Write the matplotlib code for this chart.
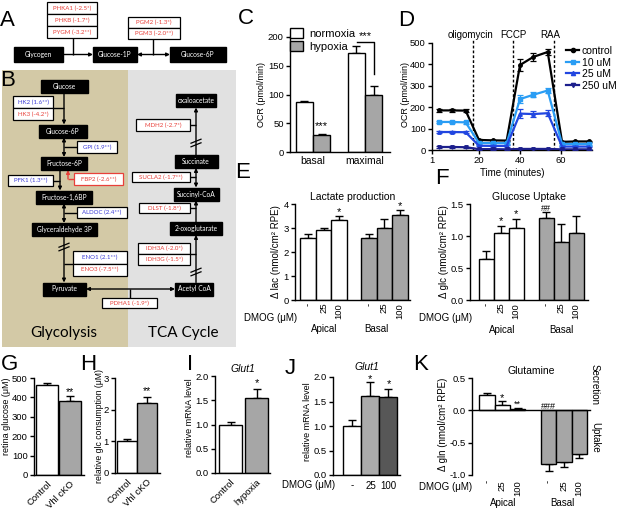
import matplotlib

matplotlib.use("Agg")
import matplotlib.pyplot as plt
from matplotlib.patches import Rectangle, Patch
from matplotlib.lines import Line2D

W, H = 617, 509

# ---- C: oxygen consumption (pmol/min) ----
ocr_groups = ["basal", "maximal"]
ocr_normoxia = [87, 172]
ocr_normoxia_err = [2, 12]
ocr_hypoxia = [29, 100]
ocr_hypoxia_err = [3, 15]

# ---- D: mito stress trace ----
time_min = [0.5, 7, 13.5, 20, 27, 33.5, 40, 46.5, 53.5, 60.5, 67, 73.5]
trace_labels = ["control", "10 uM", "25 uM", "250 uM"]
ocr_control = [185, 185, 184, 47, 45, 44, 397, 435, 458, 38, 40, 40]
ocr_control_err = [8, 8, 8, 5, 4, 4, 30, 20, 15, 4, 4, 4]
ocr_10 = [131, 131, 129, 33, 32, 32, 238, 258, 278, 28, 28, 28]
ocr_10_err = [6, 6, 6, 4, 4, 4, 18, 12, 10, 4, 4, 4]
ocr_25 = [84, 84, 83, 20, 19, 19, 170, 168, 172, 16, 16, 16]
ocr_25_err = [5, 5, 5, 3, 3, 3, 22, 14, 15, 3, 3, 3]
ocr_250 = [14, 14, 13, 4, 4, 3, 5, 5, 5, 3, 3, 3]
ocr_250_err = [3, 3, 3, 2, 2, 2, 2, 2, 2, 2, 2, 2]
injections = ["oligomycin", "FCCP", "RAA"]
injection_times = [17, 36.7, 56.5]

# ---- E/F/K: DMOG series ----
dmog_doses = ["-", "25", "100"]
lac_apical = [2.60, 2.90, 3.32]
lac_apical_err = [0.15, 0.10, 0.18]
lac_basal = [2.58, 3.00, 3.55]
lac_basal_err = [0.18, 0.38, 0.20]
glc_apical = [0.64, 1.04, 1.12]
glc_apical_err = [0.13, 0.11, 0.15]
glc_basal = [1.28, 0.90, 1.05]
glc_basal_err = [0.09, 0.28, 0.26]
gln_apical = [0.24, 0.09, 0.015]
gln_apical_err = [0.03, 0.05, 0.025]
gln_basal = [-0.83, -0.80, -0.67]
gln_basal_err = [0.11, 0.08, 0.07]

# ---- G/H/I/J ----
vhl_groups = ["Control", "Vhl cKO"]
retina_glucose = [462, 383]
retina_glucose_err = [10, 22]
glc_consumption = [1.0, 2.2]
glc_consumption_err = [0.08, 0.2]
hyp_groups = ["Control", "hypoxia"]
glut1_hypoxia = [1.0, 1.55]
glut1_hypoxia_err = [0.06, 0.18]
glut1_dmog = [1.0, 1.62, 1.59]
glut1_dmog_err = [0.12, 0.27, 0.17]

FONT = "Liberation Sans"
DIAG = "Lato"
RED = "#e8403a"
BLUE = "#3b3bd6"
GRAY = "#a6a6a6"
TICK = 6.8
LAB = 6.5

plt.rcParams["font.family"] = FONT

fig = plt.figure(figsize=(W / 100, H / 100), dpi=100)
ov = fig.add_axes([0, 0, 1, 1])
ov.set_xlim(0, W)
ov.set_ylim(H, 0)
ov.axis("off")


def px_axes(x0, y0, x1, y1):
    return fig.add_axes([x0 / W, 1 - y1 / H, (x1 - x0) / W, (y1 - y0) / H])


def T(x, y, s, **kw):
    kw.setdefault("ha", "center")
    kw.setdefault("va", "center")
    fig.text(x / W, 1 - y / H, s, **kw)


def style(ax):
    for s in ["top", "right"]:
        ax.spines[s].set_visible(False)
    for s in ["left", "bottom"]:
        ax.spines[s].set_linewidth(1.0)
    ax.tick_params(length=3, width=1.0, labelsize=TICK, pad=1.5)
    ax.set_facecolor("none")


def draw_bars(ax, xs, vals, errs, colors, width):
    ax.bar(xs, vals, width=width, color=colors, edgecolor="black", linewidth=1.0, zorder=2)
    lo = [e if v < 0 else 0 for v, e in zip(vals, errs)]
    hi = [e if v >= 0 else 0 for v, e in zip(vals, errs)]
    ax.errorbar(xs, vals, yerr=[lo, hi], fmt="none", ecolor="black", elinewidth=1.0,
                capsize=3, capthick=1.0, zorder=1)


# ---------------- diagram helpers ----------------
def node(cx, cy, w, label, h=13):
    ov.add_patch(Rectangle((cx - w / 2, cy - h / 2), w, h, fc="black", ec="black", zorder=3))
    ov.text(cx, cy, label, color="white", fontsize=4.8, ha="center", va="center",
            zorder=4, family=DIAG)


def enzyme(x0, y0, x1, y1, label, color, ec="black"):
    ov.add_patch(Rectangle((x0, y0), x1 - x0, y1 - y0, fc="white", ec=ec, lw=0.9, zorder=3))
    ov.text((x0 + x1) / 2, (y0 + y1) / 2, label, color=color, fontsize=4.4, ha="center",
            va="center", zorder=4, family=DIAG)


def arrow(x0, y0, x1, y1, both=False, color="black"):
    ov.annotate("", xy=(x1, y1), xytext=(x0, y0),
                arrowprops=dict(arrowstyle="<|-|>" if both else "-|>", color=color, lw=1,
                                mutation_scale=5, shrinkA=0, shrinkB=0), zorder=2)


def seg(xs, ys, color="black"):
    ov.plot(xs, ys, color=color, lw=1, solid_capstyle="butt", zorder=2)


def brk(x, y):
    for d in (-1.8, 1.8):
        ov.plot([x - 5, x + 5], [y + d + 2, y + d - 2], color="black", lw=0.9, zorder=2)


# ---------------- panel A ----------------
node(38.5, 54.5, 49, "Glycogen", h=15)
node(115, 54.5, 44, "Glucose-1P", h=15)
node(198, 54.5, 56, "Glucose-6P", h=15)
arrow(63, 54.5, 93, 54.5)
seg([73, 73], [38, 54.5])
arrow(137, 54.5, 170, 54.5, both=True)
seg([153, 153], [39, 54.5])
enzyme(47, 2, 97, 14, "PHKA1 (-2.5*)", RED)
enzyme(47, 14, 97, 26, "PHKB (-1.7*)", RED)
enzyme(47, 26, 97, 38, "PYGM (-3.2**)", RED)
enzyme(128, 17, 180, 28, "PGM2 (-1.3*)", RED)
enzyme(128, 28, 180, 39, "PGM3 (-2.0**)", RED)

# ---------------- panel B ----------------
ov.add_patch(Rectangle((2, 70), 126, 277, fc="#d3c9a6", ec="none", zorder=0))
ov.add_patch(Rectangle((128, 70), 108, 277, fc="#e1e1e1", ec="none", zorder=0))
ov.text(64, 333, "Glycolysis", fontsize=11, family=DIAG, ha="center", va="center")
ov.text(183, 333, "TCA Cycle", fontsize=11, family=DIAG, ha="center", va="center")

# glycolysis column
node(64, 86, 47, "Glucose")
node(63, 131, 48, "Glucose-6P")
node(64, 163.5, 46, "Fructose-6P")
node(64, 197, 56, "Fructose-1,6BP")
node(64, 229.5, 65, "Glyceraldehyde 3P")
node(64, 289, 43, "Pyruvate")
arrow(64, 92, 64, 124.5)
arrow(64, 137.5, 64, 157, both=True)
arrow(60, 170, 60, 190.5)
seg([74, 68], [179, 179], color=RED)
arrow(68, 179, 68, 170, color=RED)
arrow(64, 203.5, 64, 223, both=True)
arrow(64, 236, 64, 282.5)
brk(64, 247)
seg([53, 64], [108, 108])
seg([77, 64], [147, 147])
seg([53, 60], [180.5, 180.5])
seg([77, 64], [212.5, 212.5])
seg([73, 64], [263.5, 263.5])
enzyme(13, 96, 53, 108, "HK2 (1.6**)", BLUE)
enzyme(13, 108, 53, 120, "HK3 (-4.2*)", RED)
enzyme(77, 141, 117, 153, "GPI (1.9**)", BLUE)
enzyme(8, 175, 53, 186, "PFK1 (1.3**)", BLUE)
enzyme(74, 173, 123, 185, "FBP2 (-2.6**)", RED, ec=RED)
enzyme(77, 207, 127, 218, "ALDOC (2.4**)", BLUE)
enzyme(73, 251, 127, 263.5, "ENO1 (2.1**)", BLUE)
enzyme(73, 263.5, 127, 276, "ENO3 (-7.5**)", RED)

# TCA column
cx = 196
node(cx, 100, 40, "oxaloacetate")
node(cx, 161.5, 43, "Succinate")
node(cx, 194, 45, "Succinyl-CoA")
node(cx, 228.5, 52, "2-oxoglutarate")
node(194, 289, 38, "Acetyl CoA")
arrow(cx, 155, cx, 107.5)
brk(cx, 143)
arrow(cx, 187.5, cx, 168, both=True)
arrow(cx, 222, cx, 200.5)
arrow(cx, 282.5, cx, 235)
brk(cx, 272)
arrow(86, 289, 175, 289, both=True)
seg([130, 130], [298, 289])
seg([190, cx], [125, 125])
seg([190, cx], [177, 177])
seg([190, cx], [208, 208])
seg([190, cx], [254, 254])
enzyme(136, 119, 190, 131, "MDH2 (-2.7*)", RED)
enzyme(132, 172, 190, 182, "SUCLA2 (-1.7**)", RED)
enzyme(139, 203, 190, 213, "DLST (-1.8*)", RED)
enzyme(138, 243, 190, 254, "IDH3A (-2.0*)", RED)
enzyme(138, 254, 190, 265, "IDH3G (-1.5*)", RED)
enzyme(102, 298, 157, 308, "PDHA1 (-1.9*)", RED)

# ---------------- panel C ----------------
ax = px_axes(290, 37, 390, 152)
style(ax)
gx = list(range(len(ocr_groups)))
bw = 0.33
draw_bars(ax, [g - bw / 2 for g in gx], ocr_normoxia, ocr_normoxia_err, "white", bw)
draw_bars(ax, [g + bw / 2 for g in gx], ocr_hypoxia, ocr_hypoxia_err, GRAY, bw)
ax.set_xlim(-0.44, 1.48)
ax.set_ylim(0, 200)
ax.set_yticks([0, 50, 100, 150, 200])
ax.set_xticks(gx)
ax.set_xticklabels(ocr_groups, fontsize=7.5)
ax.tick_params(axis="x", length=0, pad=3)
ax.text(bw / 2, ocr_hypoxia[0] + ocr_hypoxia_err[0] + 4, "***", ha="center", va="bottom", fontsize=8)
ax.plot([0.85, 1 + bw / 2, 1 + bw / 2], [192, 192, 135], color="black", lw=1, clip_on=False)
ax.text(1.0, 193, "***", ha="center", va="bottom", fontsize=8)
ax.legend(handles=[Patch(fc="white", ec="black", label="normoxia"),
                   Patch(fc=GRAY, ec="black", label="hypoxia")],
          loc="upper left", bbox_to_anchor=(0.0, 1.08), frameon=False, fontsize=8,
          handlelength=1.2, handleheight=1.0, handletextpad=0.5, labelspacing=0.25,
          borderaxespad=0, borderpad=0)
T(261, 95, "OCR (pmol/min)", rotation=90, fontsize=6.5)

# ---------------- panel D ----------------
ax = px_axes(432, 43, 592, 150)
style(ax)
trace_vals = [ocr_control, ocr_10, ocr_25, ocr_250]
trace_errs = [ocr_control_err, ocr_10_err, ocr_25_err, ocr_250_err]
colors = ["black", "#2a9df4", "#2146e0", "#1c1f8c"]
markers = ["o", "s", "^", "v"]
handles = []
for lab, v, e, c, m in zip(trace_labels, trace_vals, trace_errs, colors, markers):
    ax.errorbar(time_min, v, yerr=e, color=c, marker=m, markersize=2.5, lw=1.6,
                elinewidth=0.9, capsize=2, capthick=0.9, zorder=3)
    handles.append(Line2D([], [], color=c, marker=m, markersize=3, lw=1.6, label=lab))
for t in injection_times:
    ax.plot([t, t], [0, 515], ls=(0, (2, 1.5)), color="black", lw=1, clip_on=False, zorder=2)
ax.set_xlim(-2.9, 75.1)
ax.set_ylim(0, 500)
ax.set_yticks([0, 100, 200, 300, 400, 500])
ax.set_xticks([-2.9, 20, 40, 60])
ax.set_xticklabels(["1", "20", "40", "60"])
ax.set_xlabel("Time (minutes)", fontsize=7, labelpad=2)
T(405, 95, "OCR (pmol/min)", rotation=90, fontsize=6.5)
for name, x in zip(injections, [470, 513, 550]):
    T(x, 35, name, fontsize=7)
ax.legend(handles=handles, loc="upper left", bbox_to_anchor=(566 / W, 1 - 46 / H),
          bbox_transform=fig.transFigure, frameon=False, fontsize=7.5, handlelength=1.25,
          handletextpad=0.25, labelspacing=0.15, borderaxespad=0, borderpad=0)

# ---------------- panel E ----------------
grp_x = [0, 1, 2]
grp_x2 = [3.9, 4.9, 5.9]
ax = px_axes(295, 204, 410, 300)
style(ax)
draw_bars(ax, grp_x, lac_apical, lac_apical_err, "white", 1.0)
draw_bars(ax, grp_x2, lac_basal, lac_basal_err, GRAY, 1.0)
ax.set_xlim(-0.83, 6.54)
ax.set_ylim(0, 4)
ax.set_yticks([0, 1, 2, 3, 4])
ax.set_xticks(grp_x + grp_x2)
ax.set_xticklabels(dmog_doses * 2, rotation=90, fontsize=TICK)
ax.tick_params(axis="x", length=0, pad=2)
ax.set_title("Lactate production", fontsize=7.5, pad=3)
ax.text(2, 3.55, "*", ha="center", fontsize=8)
ax.text(5.9, 3.8, "*", ha="center", fontsize=8)
T(276, 252, "Δ lac (nmol/cm² RPE)", rotation=90, fontsize=7)
T(297, 318, "DMOG (μM)", ha="right", fontsize=7)
T(324, 329, "Apical", fontsize=7)
T(376, 329, "Basal", fontsize=7)

# ---------------- panel F ----------------
grp_f = [4, 5, 6]
ax = px_axes(470, 204, 588, 300)
style(ax)
draw_bars(ax, grp_x, glc_apical, glc_apical_err, "white", 1.0)
draw_bars(ax, grp_f, glc_basal, glc_basal_err, GRAY, 1.0)
ax.set_xlim(-1.08, 6.8)
ax.set_ylim(0, 1.5)
ax.set_yticks([0, 0.5, 1.0, 1.5])
ax.set_yticklabels(["0.0", "0.5", "1.0", "1.5"])
ax.set_xticks(grp_x + grp_f)
ax.set_xticklabels(dmog_doses * 2, rotation=90, fontsize=TICK)
ax.tick_params(axis="x", length=0, pad=2)
ax.set_title("Glucose Uptake", fontsize=7.5, pad=3)
ax.text(1, 1.18, "*", ha="center", fontsize=8)
ax.text(2, 1.30, "*", ha="center", fontsize=8)
ax.text(4, 1.39, "##", ha="center", fontsize=6.5)
T(444, 252, "Δ glc (nmol/cm² RPE)", rotation=90, fontsize=7)
T(472, 318, "DMOG (μM)", ha="right", fontsize=7)
T(502, 330, "Apical", fontsize=7)
T(561, 330, "Basal", fontsize=7)

# ---------------- panel G ----------------
ax = px_axes(34, 378, 84, 475)
style(ax)
draw_bars(ax, [0, 1], retina_glucose, retina_glucose_err, ["white", GRAY], 0.95)
ax.set_xlim(-0.57, 1.6)
ax.set_ylim(0, 500)
ax.set_yticks([0, 100, 200, 300, 400, 500])
ax.set_xticks([0, 1])
ax.set_xticklabels(vhl_groups, rotation=45, ha="right", rotation_mode="anchor", fontsize=TICK)
ax.tick_params(axis="x", length=0, pad=3)
ax.text(1, 412, "**", ha="center", fontsize=7.5)
T(7, 416, "retina glucose (μM)", rotation=90, fontsize=LAB)

# ---------------- panel H ----------------
ax = px_axes(115, 378, 160, 473)
style(ax)
draw_bars(ax, [0, 1], glc_consumption, glc_consumption_err, ["white", GRAY], 1.0)
ax.set_xlim(-0.6, 1.65)
ax.set_ylim(0, 3)
ax.set_yticks([0, 1, 2, 3])
ax.set_xticks([0, 1])
ax.set_xticklabels(vhl_groups, rotation=45, ha="right", rotation_mode="anchor", fontsize=TICK)
ax.tick_params(axis="x", length=0, pad=3)
ax.text(1, 2.48, "**", ha="center", fontsize=7.5)
T(100, 426, "relative glc consumption (μM)", rotation=90, fontsize=6.2)

# ---------------- panel I ----------------
ax = px_axes(215, 376, 270, 473)
style(ax)
draw_bars(ax, [0, 1], glut1_hypoxia, glut1_hypoxia_err, ["white", GRAY], 0.88)
ax.set_xlim(-0.6, 1.52)
ax.set_ylim(0, 2)
ax.set_yticks([0, 0.5, 1.0, 1.5, 2.0])
ax.set_yticklabels(["0.0", "0.5", "1.0", "1.5", "2.0"])
ax.set_xticks([0, 1])
ax.set_xticklabels(hyp_groups, rotation=45, ha="right", rotation_mode="anchor", fontsize=TICK)
ax.tick_params(axis="x", length=0, pad=3)
ax.text(1, 1.8, "*", ha="center", fontsize=8)
ax.set_title("Glut1", fontsize=7.5, style="italic", pad=3)
T(189, 418, "relative mRNA level", rotation=90, fontsize=LAB)

# ---------------- panel J ----------------
ax = px_axes(333, 377, 400, 475)
style(ax)
draw_bars(ax, [0, 1, 2], glut1_dmog, glut1_dmog_err, ["white", "#ababab", "#575757"], 1.0)
ax.set_xlim(-1.08, 2.64)
ax.set_ylim(0, 2)
ax.set_yticks([0, 0.5, 1.0, 1.5, 2.0])
ax.set_yticklabels(["0.0", "0.5", "1.0", "1.5", "2.0"])
ax.set_xticks([0, 1, 2])
ax.set_xticklabels(dmog_doses, fontsize=7)
ax.tick_params(axis="x", length=0, pad=4)
ax.text(1, 1.90, "*", ha="center", fontsize=8)
ax.text(2, 1.79, "*", ha="center", fontsize=8)
ax.set_title("Glut1", fontsize=7.5, style="italic", pad=5)
T(308, 422, "relative mRNA level", rotation=90, fontsize=LAB)
T(335, 485, "DMOG (μM)", ha="right", fontsize=7)

# ---------------- panel K ----------------
ax = px_axes(472, 378, 590, 475)
style(ax)
draw_bars(ax, grp_x, gln_apical, gln_apical_err, "white", 1.0)
draw_bars(ax, grp_f, gln_basal, gln_basal_err, GRAY, 1.0)
ax.set_xlim(-0.98, 6.7)
ax.set_ylim(-1.0, 0.5)
ax.set_yticks([-1.0, -0.5, 0.0, 0.5])
ax.set_yticklabels(["-1.0", "-0.5", "0.0", "0.5"])
ax.spines["bottom"].set_position(("data", 0))
ax.set_xticks([])
for xs in (grp_x, grp_f):
    for x, lab in zip(xs, dmog_doses):
        ax.text(x, -1.08, lab, rotation=90, ha="center", va="top", fontsize=TICK)
ax.text(1, 0.15, "*", ha="center", fontsize=8)
ax.text(2, 0.05, "**", ha="center", fontsize=6.5)
ax.text(4, 0.02, "###", ha="center", fontsize=6.5)
ax.set_title("Glutamine", fontsize=7.5, pad=3)
T(443, 424, "Δ gln (nmol/cm² RPE)", rotation=90, fontsize=7)
T(472, 487, "DMOG (μM)", ha="right", fontsize=7)
T(503, 503, "Apical", fontsize=7)
T(562, 503, "Basal", fontsize=7)
T(595, 385, "Secretion", rotation=270, fontsize=7)
T(595, 437, "Uptake", rotation=270, fontsize=7)

# ---------------- panel letters ----------------
for letter, x, y in [("A", 7, 20.5), ("B", 8, 81), ("C", 246, 18), ("D", 406, 21),
                     ("E", 243, 172), ("F", 442, 178), ("G", 9, 365), ("H", 88, 365),
                     ("I", 190, 365), ("J", 290, 368), ("K", 421, 364)]:
    T(x, y, letter, fontsize=16)

fig.savefig("out.png", dpi=100)
